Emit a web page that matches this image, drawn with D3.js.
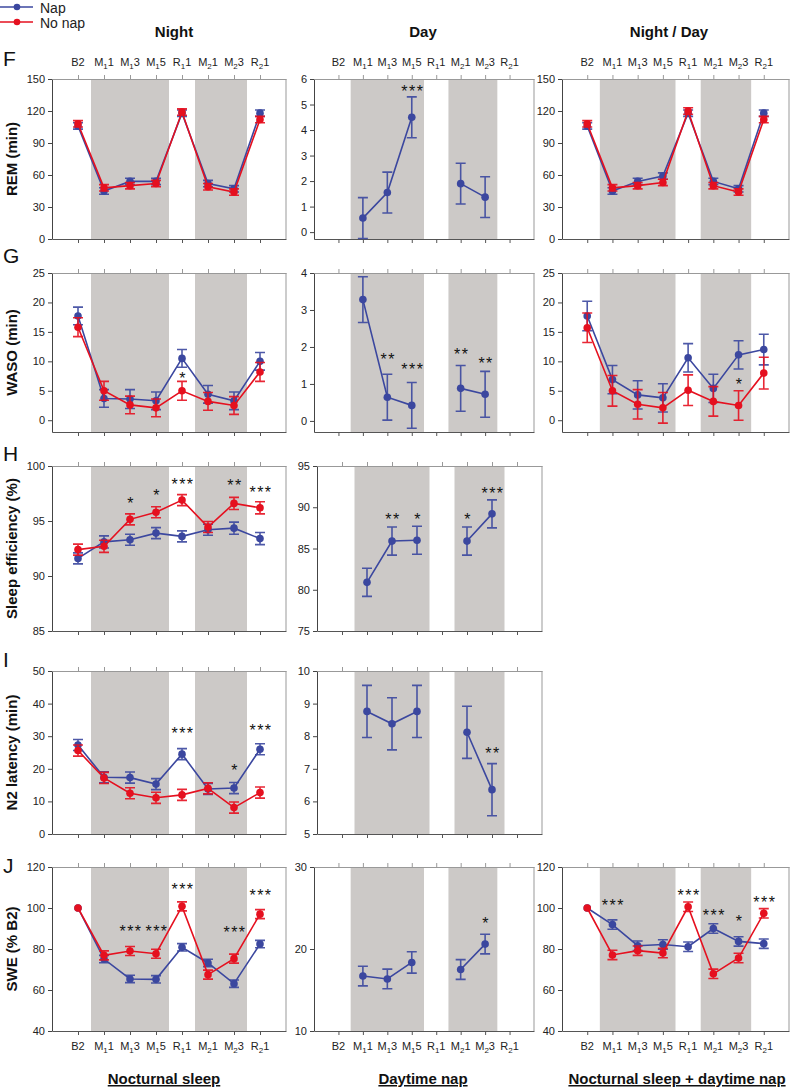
<!DOCTYPE html>
<html>
<head>
<meta charset="utf-8">
<script src="https://cdn.jsdelivr.net/npm/d3@7"></script>
<style>
  body { margin: 0; background: #fff; }
  svg { font-family: Arial, "Liberation Sans", sans-serif; }
</style>
</head>
<body>
<script>
// categories (label, subscript, suffix)
var categories = ["B2", "M11", "M13", "M15", "R11", "M21", "M23", "R21"];
var catLabels = [["B2", "", ""], ["M", "1", "1"], ["M", "1", "3"], ["M", "1", "5"],
                 ["R", "1", "1"], ["M", "2", "1"], ["M", "2", "3"], ["R", "2", "1"]];
var shadeBlocks = [["M11", "M15"], ["M21", "M23"]];
var colTitles = ["Night", "Day", "Night / Day"];
var bottomTitles = ["Nocturnal sleep", "Daytime nap", "Nocturnal sleep + daytime nap"];

// F: REM (min)
var remNightNap = [106, 45, 54, 54, 118, 52, 47, 118];
var remNightNoNap = [108, 48, 50, 52, 119, 49, 44, 112];
var remDayNap = [null, 0.55, 1.55, 4.5, null, 1.9, 1.37, null];
var remBothNap = [106, 45, 54, 59, 118, 54, 47, 118];
var remBothNoNap = [108, 48, 50, 53, 120, 50, 44, 112];
var remDayStars = ["", "", "", "***", "", "", "", ""];
var remDayStarY = [0, 0, 0, 5.65, 0, 0, 0, 0];

// G: WASO (min)
var wasoNightNap = [17.7, 3.7, 3.6, 3.3, 10.5, 4.4, 3.3, 10.0];
var wasoNightNoNap = [15.8, 5.0, 2.6, 2.1, 5.0, 3.2, 2.5, 8.2];
var wasoNightStars = ["", "", "", "", "*", "", "", ""];
var wasoNightStarY = [0, 0, 0, 0, 7.6, 0, 0, 0];
var wasoDayNap = [null, 3.28, 0.64, 0.42, null, 0.88, 0.72, null];
var wasoDayStars = ["", "", "**", "***", "", "**", "**", ""];
var wasoDayStarY = [0, 0, 1.75, 1.48, 0, 1.9, 1.66, 0];
var wasoBothNap = [17.7, 6.9, 4.3, 3.8, 10.6, 5.4, 11.1, 12.0];
var wasoBothNoNap = [15.7, 5.0, 2.7, 2.1, 5.1, 3.2, 2.5, 8.0];
var wasoBothStars = ["", "", "", "", "", "", "*", ""];
var wasoBothStarY = [0, 0, 0, 0, 0, 0, 6.6, 0];

// H: Sleep efficiency (%)
var seNightNap = [91.6, 93.1, 93.3, 93.9, 93.6, 94.2, 94.35, 93.4];
var seNightNoNap = [92.4, 92.7, 95.15, 95.8, 96.9, 94.45, 96.6, 96.2];
var seNightStars = ["", "", "*", "*", "***", "", "**", "***"];
var seNightStarY = [0, 0, 96.9, 97.6, 98.65, 0, 98.55, 97.9];
var seDayNap = [null, 80.9, 85.9, 86.0, null, 85.9, 89.2, null];
var seDayStars = ["", "", "**", "*", "", "*", "***", ""];
var seDayStarY = [0, 0, 88.9, 89.0, 0, 89.0, 92.1, 0];

// I: N2 latency (min)
var n2NightNap = [27.3, 17.4, 17.3, 15.3, 24.5, 13.8, 14.1, 26.0];
var n2NightNoNap = [25.6, 17.2, 12.5, 11.1, 12.0, 14.0, 8.1, 12.7];
var n2NightStars = ["", "", "", "", "***", "", "*", "***"];
var n2NightStarY = [0, 0, 0, 0, 31.9, 0, 20.5, 32.7];
var n2DayNap = [null, 8.76, 8.38, 8.76, null, 8.12, 6.36, null];
var n2DayStars = ["", "", "", "", "", "", "**", ""];
var n2DayStarY = [0, 0, 0, 0, 0, 0, 7.57, 0];

// J: SWE (% B2)
var sweNightNap = [100, 75.1, 65.4, 65.2, 80.8, 73.2, 63.1, 82.4];
var sweNightNoNap = [100, 76.9, 79.0, 77.7, 100.8, 67.5, 75.3, 97.0];
var sweNightStars = ["", "", "***", "***", "***", "", "***", "***"];
var sweNightStarY = [0, 0, 90.1, 90.1, 110.5, 0, 89.8, 107.6];
var sweDayNap = [null, 16.7, 16.35, 18.36, null, 17.5, 20.6, null];
var sweDayStars = ["", "", "", "", "", "", "*", ""];
var sweDayStarY = [0, 0, 0, 0, 0, 0, 23.5, 0];
var sweBothNap = [100, 91.9, 81.6, 82.2, 81.1, 90.0, 83.7, 82.6];
var sweBothNoNap = [100, 77.1, 79.2, 78.0, 100.6, 67.9, 75.6, 97.4];
var sweBothStars = ["", "***", "", "", "***", "***", "*", "***"];
var sweBothStarY = [0, 103.1, 0, 0, 108.0, 97.9, 95.1, 104.4];

// error bar half-widths
var remErr = [3, 3, 3, 3, 3, 3, 3, 3];
var remDayErr = [0, 0.8, 0.8, 0.8, 0, 0.8, 0.8, 0];
var wasoNapErr = [1.5, 1.5, 1.6, 1.5, 1.5, 1.5, 1.5, 1.5];
var wasoNoNapErr = [1.6, 1.6, 1.5, 1.5, 1.6, 1.5, 1.5, 1.6];
var wasoDayErr = [0, 0.62, 0.62, 0.62, 0, 0.62, 0.62, 0];
var wasoBothNapErr = [2.5, 2.4, 2.4, 2.4, 2.4, 2.4, 2.4, 2.6];
var wasoBothNoNapErr = [2.5, 2.6, 2.5, 2.6, 2.6, 2.5, 2.5, 2.7];
var seErr = [0.5, 0.55, 0.5, 0.5, 0.5, 0.5, 0.55, 0.55];
var seDayErr = [0, 1.7, 1.7, 1.7, 0, 1.7, 1.7, 0];
var n2Err = [1.7, 1.7, 1.7, 1.7, 1.7, 1.7, 1.7, 1.7];
var n2DayErr = [0, 0.8, 0.8, 0.8, 0, 0.8, 0.8, 0];
var sweNapErr = [0, 1.8, 1.8, 1.8, 1.8, 1.8, 1.8, 1.8];
var sweNoNapErr = [0, 2.2, 2.2, 2.2, 2.2, 2.2, 2.2, 2.2];
var sweDayErr = [0, 1.2, 1.2, 1.3, 0, 1.2, 1.2, 0];
var sweBothErr = [0, 2.3, 2.3, 2.3, 2.3, 2.3, 2.3, 2.3];

var blue = "#3b479f", red = "#e5101f";

// layout
var colX = [[52, 286], [314, 534], [562, 789]];
var wideDayX = [317, 542];
var rowY = { F: [79, 239], G: [273, 432], H: [466, 631], I: [671, 834], J: [867, 1031] };
var letterY = { F: 66, G: 263, H: 461, I: 667, J: 873 };

var panels = [
  { row: "F", x: colX[0], dom: [0, 150], ticks: [0, 30, 60, 90, 120, 150], label: "REM (min)",
    nap: remNightNap, napErr: remErr, noNap: remNightNoNap, noNapErr: remErr },
  { row: "F", x: colX[1], dom: [-0.27, 6], ticks: [0, 1, 2, 3, 4, 5, 6],
    nap: remDayNap, napErr: remDayErr, stars: remDayStars, starY: remDayStarY },
  { row: "F", x: colX[2], dom: [0, 150], ticks: [0, 30, 60, 90, 120, 150],
    nap: remBothNap, napErr: remErr, noNap: remBothNoNap, noNapErr: remErr },
  { row: "G", x: colX[0], dom: [-2, 25], ticks: [0, 5, 10, 15, 20, 25], label: "WASO (min)",
    nap: wasoNightNap, napErr: wasoNapErr, noNap: wasoNightNoNap, noNapErr: wasoNoNapErr,
    stars: wasoNightStars, starY: wasoNightStarY },
  { row: "G", x: colX[1], dom: [-0.3, 4], ticks: [0, 1, 2, 3, 4],
    nap: wasoDayNap, napErr: wasoDayErr, stars: wasoDayStars, starY: wasoDayStarY },
  { row: "G", x: colX[2], dom: [-2, 25], ticks: [0, 5, 10, 15, 20, 25],
    nap: wasoBothNap, napErr: wasoBothNapErr, noNap: wasoBothNoNap, noNapErr: wasoBothNoNapErr,
    stars: wasoBothStars, starY: wasoBothStarY },
  { row: "H", x: colX[0], dom: [85, 100], ticks: [85, 90, 95, 100], label: "Sleep efficiency (%)",
    nap: seNightNap, napErr: seErr, noNap: seNightNoNap, noNapErr: seErr,
    stars: seNightStars, starY: seNightStarY },
  { row: "H", x: wideDayX, dom: [75, 95], ticks: [75, 80, 85, 90, 95],
    nap: seDayNap, napErr: seDayErr, stars: seDayStars, starY: seDayStarY },
  { row: "I", x: colX[0], dom: [0, 50], ticks: [0, 10, 20, 30, 40, 50], label: "N2 latency (min)",
    nap: n2NightNap, napErr: n2Err, noNap: n2NightNoNap, noNapErr: n2Err,
    stars: n2NightStars, starY: n2NightStarY },
  { row: "I", x: wideDayX, dom: [5, 10], ticks: [5, 6, 7, 8, 9, 10],
    nap: n2DayNap, napErr: n2DayErr, stars: n2DayStars, starY: n2DayStarY },
  { row: "J", x: colX[0], dom: [40, 120], ticks: [40, 60, 80, 100, 120], label: "SWE (% B2)",
    nap: sweNightNap, napErr: sweNapErr, noNap: sweNightNoNap, noNapErr: sweNoNapErr,
    stars: sweNightStars, starY: sweNightStarY },
  { row: "J", x: colX[1], dom: [10, 30], ticks: [10, 20, 30],
    nap: sweDayNap, napErr: sweDayErr, stars: sweDayStars, starY: sweDayStarY },
  { row: "J", x: colX[2], dom: [40, 120], ticks: [40, 60, 80, 100, 120],
    nap: sweBothNap, napErr: sweBothErr, noNap: sweBothNoNap, noNapErr: sweBothErr,
    stars: sweBothStars, starY: sweBothStarY }
];

var svg = d3.select("body").append("svg")
  .attr("width", 798)
  .attr("height", 1092);

// legend
[["Nap", blue, 7], ["No nap", red, 22]].forEach(function (l) {
  svg.append("line").attr("x1", 0).attr("x2", 33).attr("y1", l[2]).attr("y2", l[2])
    .attr("stroke", l[1]).attr("stroke-width", 1.6);
  svg.append("circle").attr("cx", 17).attr("cy", l[2]).attr("r", 3.3).attr("fill", l[1]);
  svg.append("text").attr("x", 40).attr("y", l[2] + 6).text(l[0])
    .attr("font-size", "14px").attr("fill", "#222");
});

// panel letters
Object.keys(letterY).forEach(function (k) {
  svg.append("text").attr("x", 3).attr("y", letterY[k]).text(k)
    .attr("font-size", "21px").attr("fill", "#111");
});

function catText(sel, i) {
  var c = catLabels[i];
  sel.append("tspan").text(c[0]);
  if (c[1]) {
    sel.append("tspan").text(c[1]).attr("font-size", "8px").attr("dy", 3);
    sel.append("tspan").text(c[2]).attr("dy", -3);
  }
}

panels.forEach(function (p) {
  var y0 = rowY[p.row][0], y1 = rowY[p.row][1];
  var x = d3.scalePoint().domain(categories).range(p.x).padding(1);
  var y = d3.scaleLinear().domain(p.dom).range([y1, y0]);
  var step = x.step();
  var g = svg.append("g");

  // shaded periods
  g.selectAll("rect.shade").data(shadeBlocks).enter().append("rect")
    .attr("x", function (d) { return x(d[0]) - step / 2; })
    .attr("width", function (d) { return x(d[1]) - x(d[0]) + step; })
    .attr("y", y0).attr("height", y1 - y0)
    .attr("fill", "#ccc9c7");

  // frame
  g.append("line").attr("x1", p.x[1]).attr("x2", p.x[1]).attr("y1", y0).attr("y2", y1)
    .attr("stroke", "#999");

  var top = g.append("g").attr("transform", "translate(0," + y0 + ")")
    .call(d3.axisTop(x).tickSize(4).tickSizeOuter(0).tickFormat(""));
  top.selectAll("path, line").attr("stroke", "#999");

  var bottom = g.append("g").attr("transform", "translate(0," + y1 + ")")
    .call(d3.axisBottom(x).tickSize(4).tickSizeOuter(0).tickFormat(""));
  bottom.selectAll("path, line").attr("stroke", "#555");

  var left = g.append("g").attr("transform", "translate(" + p.x[0] + ",0)")
    .call(d3.axisLeft(y).tickValues(p.ticks).tickFormat(d3.format("d"))
      .tickSize(4).tickSizeOuter(0).tickPadding(3));
  left.selectAll("path, line").attr("stroke", "#444");
  left.selectAll("text").attr("font-size", "11px").attr("fill", "#222")
    .attr("font-family", "Arial, 'Liberation Sans', sans-serif");

  // category labels
  if (p.row === "F" || p.row === "J") {
    var ly = p.row === "F" ? y0 - 13 : y1 + 19;
    categories.forEach(function (c, i) {
      var t = g.append("text").attr("x", x(c)).attr("y", ly)
        .attr("text-anchor", "middle").attr("font-size", "11px").attr("fill", "#222");
      catText(t, i);
    });
  }

  if (p.label) {
    svg.append("text")
      .attr("transform", "translate(17," + (y0 + y1) / 2 + ") rotate(-90)")
      .attr("text-anchor", "middle").attr("font-size", "15px").attr("font-weight", "bold")
      .attr("fill", "#111").text(p.label);
  }

  // series
  var series = [[p.nap, p.napErr, blue]];
  if (p.noNap) series.push([p.noNap, p.noNapErr, red]);

  series.forEach(function (s) {
    var vals = s[0], errs = s[1], col = s[2];
    var line = d3.line()
      .defined(function (d) { return d != null; })
      .x(function (d, i) { return x(categories[i]); })
      .y(function (d) { return y(d); });
    g.append("path").datum(vals).attr("d", line)
      .attr("fill", "none").attr("stroke", col).attr("stroke-width", 1.6);

    var pts = vals.map(function (v, i) { return { c: categories[i], v: v, e: errs[i] }; })
      .filter(function (d) { return d.v != null; });

    g.selectAll(null).data(pts.filter(function (d) { return d.e > 0; })).enter()
      .append("path")
      .attr("d", function (d) {
        var cx = x(d.c), t = y(d.v + d.e), b = y(d.v - d.e);
        return "M" + (cx - 5) + "," + t + "H" + (cx + 5) + "M" + cx + "," + t + "V" + b +
               "M" + (cx - 5) + "," + b + "H" + (cx + 5);
      })
      .attr("fill", "none").attr("stroke", col).attr("stroke-width", 1.6).attr("opacity", 0.9);

    g.selectAll(null).data(pts).enter().append("circle")
      .attr("cx", function (d) { return x(d.c); })
      .attr("cy", function (d) { return y(d.v); })
      .attr("r", 3.8).attr("fill", col);
  });

  // significance stars
  if (p.stars) {
    p.stars.forEach(function (s, i) {
      if (!s) return;
      g.append("text").attr("x", x(categories[i]) + 1).attr("y", y(p.starY[i]) + 9)
        .attr("text-anchor", "middle").attr("font-size", "16px")
        .attr("letter-spacing", "1.5px").attr("fill", "#111").text(s);
    });
  }
});

// column titles
colTitles.forEach(function (t, i) {
  svg.append("text").attr("x", [174, 423, 669][i]).attr("y", 37)
    .attr("text-anchor", "middle").attr("font-size", "15px").attr("font-weight", "bold")
    .attr("fill", "#111").text(t);
});

bottomTitles.forEach(function (t, i) {
  svg.append("text").attr("x", [164, 423, 677][i]).attr("y", 1084)
    .attr("text-anchor", "middle").attr("font-size", "15px").attr("font-weight", "bold")
    .attr("text-decoration", "underline").attr("fill", "#111").text(t);
});
</script>
</body>
</html>
